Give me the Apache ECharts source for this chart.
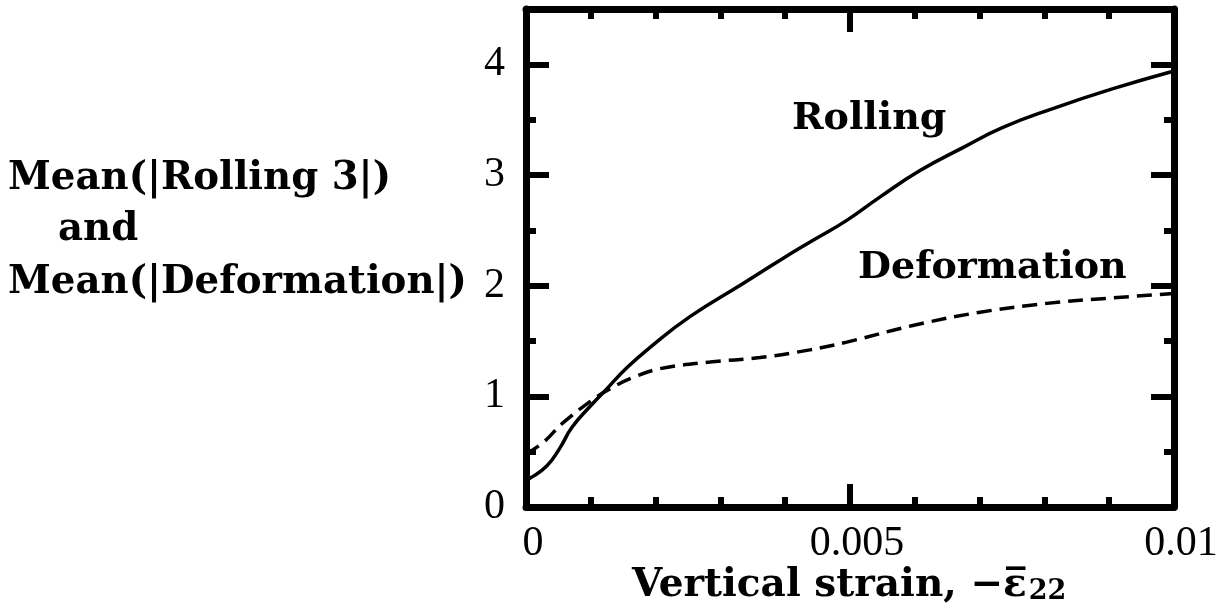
<!DOCTYPE html>
<html>
<head>
<meta charset="utf-8">
<script src="https://cdn.jsdelivr.net/npm/echarts@6/dist/echarts.min.js"></script>
<style>
  html, body { margin: 0; padding: 0; background: #fff; }
  #chart { width: 1228px; height: 616px; }
</style>
</head>
<body>
<div id="chart"></div>
<script>
  // strain values and curves
  var rollingX = [0, 0.00006, 0.00032, 0.00052, 0.00071, 0.00099, 0.00125, 0.00156, 0.00191, 0.00253, 0.00335, 0.00392, 0.00443, 0.00495, 0.00546, 0.00608, 0.00675, 0.00736, 0.00813, 0.00906, 0.01];
  var rollingY = [0.25, 0.26, 0.37, 0.53, 0.72, 0.91, 1.07, 1.26, 1.44, 1.72, 2.02, 2.23, 2.41, 2.59, 2.80, 3.04, 3.25, 3.43, 3.60, 3.78, 3.94];

  var deformX = [0, 0.00026, 0.00057, 0.00103, 0.0013, 0.00165, 0.00207, 0.00284, 0.00361, 0.00438, 0.00495, 0.00597, 0.00701, 0.00804, 0.00906, 0.01];
  var deformY = [0.48, 0.58, 0.76, 0.97, 1.07, 1.17, 1.25, 1.31, 1.35, 1.42, 1.49, 1.64, 1.76, 1.84, 1.89, 1.93];

  var xTickLabels = { '0': '0', '0.005': '0.005', '0.01': '0.01' };
  var yTickLabels = ['0', '1', '2', '3', '4'];

  var serif = '"Liberation Serif", "DejaVu Serif", serif';
  var boldSerif = '"DejaVu Serif", "Liberation Serif", serif';

  function pairs(xs, ys) {
    var out = [];
    for (var i = 0; i < xs.length; i++) {
      out.push([xs[i], ys[i]]);
    }
    return out;
  }

  // frame axis helpers
  function xAx(pos, showLabel) {
    return {
      type: 'value', position: pos, min: 0, max: 0.01, interval: 0.005,
      axisLine: { show: true, onZero: false, lineStyle: { color: '#000', width: 7 } },
      axisTick: { show: true, inside: true, length: 23, lineStyle: { color: '#000', width: 6 } },
      minorTick: { show: true, splitNumber: 5, length: 10, lineStyle: { color: '#000', width: 6 } },
      splitLine: { show: false },
      axisLabel: {
        show: showLabel, margin: 16, color: '#000', fontFamily: serif, fontSize: 42,
        padding: [0, 0, 0, 14],
        formatter: function (v) {
          var key = String(+v.toFixed(4));
          return xTickLabels[key] !== undefined ? xTickLabels[key] : '';
        }
      }
    };
  }
  function yAx(pos, major, showLabel) {
    return {
      type: 'value', position: pos, min: 0, max: 4.5, interval: major ? 1 : 0.5,
      axisLine: { show: major, onZero: false, lineStyle: { color: '#000', width: 7 } },
      axisTick: { show: true, inside: true, length: major ? 23 : 10, lineStyle: { color: '#000', width: 6 } },
      splitLine: { show: false },
      axisLabel: {
        show: showLabel, margin: 21, color: '#000', fontFamily: serif, fontSize: 42,
        formatter: function (v) {
          var i = Math.round(v);
          return (Math.abs(v - i) < 1e-9 && yTickLabels[i] !== undefined) ? yTickLabels[i] : '';
        }
      }
    };
  }

  var chart = echarts.init(document.getElementById('chart'));
  var option = {
    backgroundColor: '#fff',
    animation: false,
    grid: { left: 526, right: 54, top: 9, bottom: 109, containLabel: false },
    xAxis: [xAx('bottom', true), xAx('top', false)],
    yAxis: [yAx('left', true, true), yAx('left', false, false), yAx('right', true, false), yAx('right', false, false)],
    series: [
      {
        name: 'Rolling', type: 'line', xAxisIndex: 0, yAxisIndex: 0,
        data: pairs(rollingX, rollingY), smooth: 0.5, symbol: 'none',
        lineStyle: { color: '#000', width: 3.5 }
      },
      {
        name: 'Deformation', type: 'line', xAxisIndex: 0, yAxisIndex: 0,
        data: pairs(deformX, deformY), smooth: 0.4, symbol: 'none',
        lineStyle: { color: '#000', width: 3.5, type: [15, 8] }
      }
    ],
    graphic: [
      { type: 'text', left: 8, top: 159, style: { text: 'Mean(|Rolling 3|)', font: 'bold 38.7px ' + boldSerif, fill: '#000' } },
      { type: 'text', left: 58, top: 210, style: { text: 'and', font: 'bold 38.7px ' + boldSerif, fill: '#000' } },
      { type: 'text', left: 8, top: 263, style: { text: 'Mean(|Deformation|)', font: 'bold 38.7px ' + boldSerif, fill: '#000' } },
      { type: 'text', left: 792, top: 100, style: { text: 'Rolling', font: 'bold 38px ' + boldSerif, fill: '#000' } },
      { type: 'text', left: 858, top: 249, style: { text: 'Deformation', font: 'bold 38px ' + boldSerif, fill: '#000' } },
      {
        type: 'text', left: 632, top: 566,
        style: {
          text: '{m|Vertical strain, \u2212\u03b5\u0305}{s|22}',
          fill: '#000',
          rich: {
            m: { fontFamily: boldSerif, fontWeight: 'bold', fontSize: 39, color: '#000', verticalAlign: 'bottom' },
            s: { fontFamily: boldSerif, fontWeight: 'bold', fontSize: 27, color: '#000', verticalAlign: 'bottom', padding: [0, 0, 0, 2] }
          }
        }
      }
    ]
  };
  chart.setOption(option);
</script>
</body>
</html>
